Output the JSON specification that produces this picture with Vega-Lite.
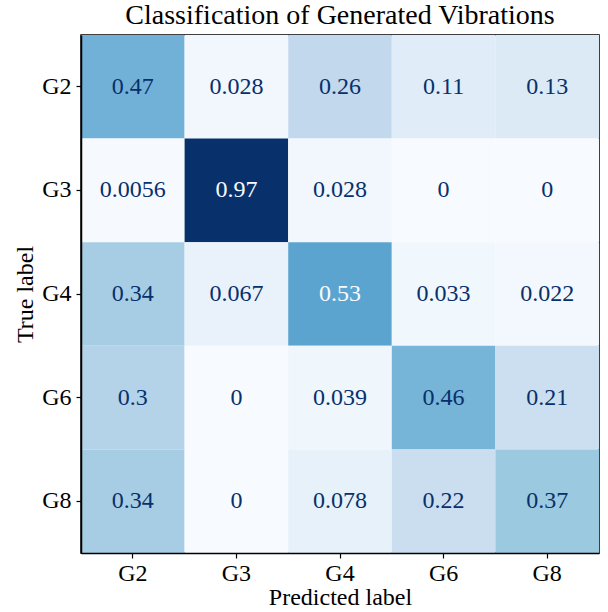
{
  "$schema": "https://vega.github.io/schema/vega-lite/v6.json",
  "autosize": "none",
  "width": 518,
  "height": 518,
  "padding": {"left": 81, "top": 35, "right": 9, "bottom": 59},
  "background": "white",
  "title": {
    "text": "Classification of Generated Vibrations",
    "font": "Liberation Serif",
    "fontSize": 28,
    "fontWeight": "normal",
    "color": "black",
    "offset": 5
  },
  "config": {
    "view": {"stroke": "black", "strokeWidth": 1.5},
    "font": "Liberation Serif"
  },
  "data": {
    "values": [
      {"true": "G2", "pred": "G2", "v": 0.47, "label": "0.47"},
      {"true": "G2", "pred": "G3", "v": 0.028, "label": "0.028"},
      {"true": "G2", "pred": "G4", "v": 0.26, "label": "0.26"},
      {"true": "G2", "pred": "G6", "v": 0.11, "label": "0.11"},
      {"true": "G2", "pred": "G8", "v": 0.13, "label": "0.13"},
      {"true": "G3", "pred": "G2", "v": 0.0056, "label": "0.0056"},
      {"true": "G3", "pred": "G3", "v": 0.97, "label": "0.97"},
      {"true": "G3", "pred": "G4", "v": 0.028, "label": "0.028"},
      {"true": "G3", "pred": "G6", "v": 0, "label": "0"},
      {"true": "G3", "pred": "G8", "v": 0, "label": "0"},
      {"true": "G4", "pred": "G2", "v": 0.34, "label": "0.34"},
      {"true": "G4", "pred": "G3", "v": 0.067, "label": "0.067"},
      {"true": "G4", "pred": "G4", "v": 0.53, "label": "0.53"},
      {"true": "G4", "pred": "G6", "v": 0.033, "label": "0.033"},
      {"true": "G4", "pred": "G8", "v": 0.022, "label": "0.022"},
      {"true": "G6", "pred": "G2", "v": 0.3, "label": "0.3"},
      {"true": "G6", "pred": "G3", "v": 0, "label": "0"},
      {"true": "G6", "pred": "G4", "v": 0.039, "label": "0.039"},
      {"true": "G6", "pred": "G6", "v": 0.46, "label": "0.46"},
      {"true": "G6", "pred": "G8", "v": 0.21, "label": "0.21"},
      {"true": "G8", "pred": "G2", "v": 0.34, "label": "0.34"},
      {"true": "G8", "pred": "G3", "v": 0, "label": "0"},
      {"true": "G8", "pred": "G4", "v": 0.078, "label": "0.078"},
      {"true": "G8", "pred": "G6", "v": 0.22, "label": "0.22"},
      {"true": "G8", "pred": "G8", "v": 0.37, "label": "0.37"}
    ]
  },
  "encoding": {
    "x": {
      "field": "pred", "type": "nominal",
      "sort": ["G2", "G3", "G4", "G6", "G8"],
      "scale": {"paddingInner": 0, "paddingOuter": 0},
      "axis": {
        "title": "Predicted label", "labelAngle": 0,
        "labelFont": "Liberation Serif", "labelFontSize": 24, "labelColor": "black",
        "titleFont": "Liberation Serif", "titleFontSize": 24, "titleFontWeight": "normal", "titleColor": "black",
        "tickColor": "black", "tickSize": 5, "tickWidth": 1.2,
        "domainColor": "black", "domainWidth": 1.5,
        "labelPadding": 3, "titlePadding": 0
      }
    },
    "y": {
      "field": "true", "type": "nominal",
      "sort": ["G2", "G3", "G4", "G6", "G8"],
      "scale": {"paddingInner": 0, "paddingOuter": 0},
      "axis": {
        "title": "True label",
        "labelFont": "Liberation Serif", "labelFontSize": 24, "labelColor": "black",
        "titleFont": "Liberation Serif", "titleFontSize": 24, "titleFontWeight": "normal", "titleColor": "black",
        "tickColor": "black", "tickSize": 5, "tickWidth": 1.2,
        "domainColor": "black", "domainWidth": 1.5,
        "labelPadding": 5, "titlePadding": 4
      }
    }
  },
  "layer": [
    {
      "mark": {"type": "rect"},
      "encoding": {
        "color": {
          "field": "v", "type": "quantitative", "legend": null,
          "scale": {
            "type": "linear",
            "domain": [0, 0.12125, 0.2425, 0.36375, 0.485, 0.60625, 0.7275, 0.84875, 0.97],
            "range": ["#f7fbff", "#deebf7", "#c6dbef", "#9ecae1", "#6baed6", "#4292c6", "#2171b5", "#08519c", "#08306b"]
          }
        }
      }
    },
    {
      "mark": {"type": "text", "font": "Liberation Serif", "fontSize": 24},
      "encoding": {
        "text": {"field": "label", "type": "nominal"},
        "color": {
          "condition": {"test": "datum.v >= 0.485", "value": "#f7fbff"},
          "value": "#08306b"
        }
      }
    }
  ]
}
